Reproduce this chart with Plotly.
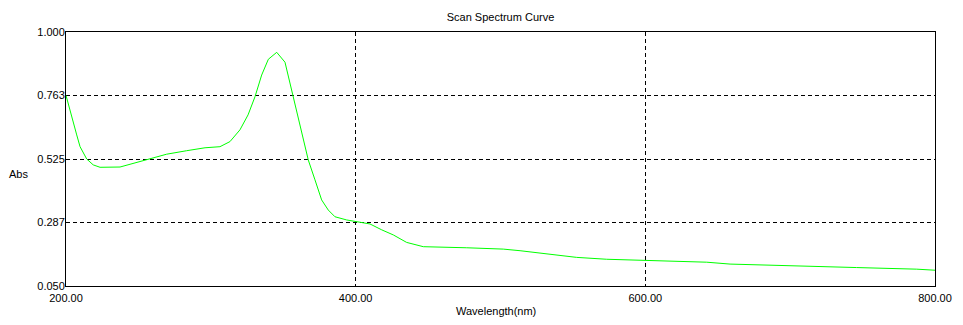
import plotly.graph_objects as go

wavelength = [200.0, 203.9, 207.4, 209.7, 214.3, 218.8, 223.5, 237.3, 246.5, 258.0,
              269.5, 283.3, 296.0, 306.3, 313.2, 320.1, 325.7, 330.5, 335.1, 339.7,
              345.5, 351.2, 355.8, 360.4, 363.8, 367.3, 371.9, 376.5, 381.1, 385.7,
              393.8, 400.7, 409.9, 418.0, 426.0, 435.2, 446.7, 476.7, 501.9, 513.5,
              531.9, 552.6, 573.3, 600.9, 624.0, 642.4, 658.5, 697.6, 745.9, 787.4, 800.0]
absorbance = [0.763, 0.690, 0.615, 0.571, 0.525, 0.503, 0.494, 0.495, 0.509, 0.525,
              0.543, 0.556, 0.567, 0.571, 0.590, 0.634, 0.690, 0.758, 0.839, 0.898,
              0.924, 0.887, 0.783, 0.683, 0.596, 0.521, 0.447, 0.372, 0.334, 0.309,
              0.297, 0.291, 0.282, 0.260, 0.241, 0.213, 0.197, 0.193, 0.188, 0.182,
              0.170, 0.157, 0.150, 0.146, 0.141, 0.139, 0.132, 0.125, 0.119, 0.113, 0.109]

x_ticks = [200, 400, 600, 800]
x_tick_labels = ["200.00", "400.00", "600.00", "800.00"]
y_ticks = [0.05, 0.2875, 0.525, 0.7625, 1.0]
y_tick_labels = ["0.050", "0.287", "0.525", "0.763", "1.000"]

font_family = "Liberation Sans, Arial, sans-serif"

fig = go.Figure()
fig.add_trace(go.Scatter(x=wavelength, y=absorbance, mode="lines",
                         line=dict(color="#00FF00", width=1), showlegend=False,
                         hoverinfo="skip"))

axis_common = dict(showline=True, linecolor="black", linewidth=1, mirror=True,
                   showgrid=True, gridcolor="black", gridwidth=1, griddash="4px,3px",
                   zeroline=False, ticks="", tickfont=dict(family=font_family, size=11, color="black"))

fig.update_xaxes(range=[200, 800], tickvals=x_ticks, ticktext=x_tick_labels,
                 ticklabelstandoff=2, **axis_common)
fig.update_yaxes(range=[0.05, 1.0], tickvals=y_ticks, ticktext=y_tick_labels,
                 ticklabelstandoff=-2, **axis_common)

# page body has an 8px default margin, so the figure is offset by 8px
W, H = 955, 317
fig.update_layout(
    width=W, height=H,
    margin=dict(l=58, r=28, t=24, b=39),
    paper_bgcolor="white", plot_bgcolor="white",
    font=dict(family=font_family, size=11, color="black"),
    title=dict(text="Scan Spectrum Curve", x=0.5, xref="paper", y=1 - 9 / H,
               yref="container", xanchor="center", yanchor="middle",
               font=dict(family=font_family, size=11, color="black")),
    annotations=[
        dict(text="Abs", xref="paper", yref="paper", x=-58 / 869, y=0.441,
             xanchor="left", yanchor="middle", showarrow=False, borderpad=0,
             font=dict(family=font_family, size=11, color="black")),
        dict(text="Wavelength(nm)", xref="paper", yref="paper", x=0.4948, y=-0.0984,
             xanchor="center", yanchor="middle", showarrow=False,
             font=dict(family=font_family, size=11, color="black")),
    ],
)

fig.write_html("out.html")
